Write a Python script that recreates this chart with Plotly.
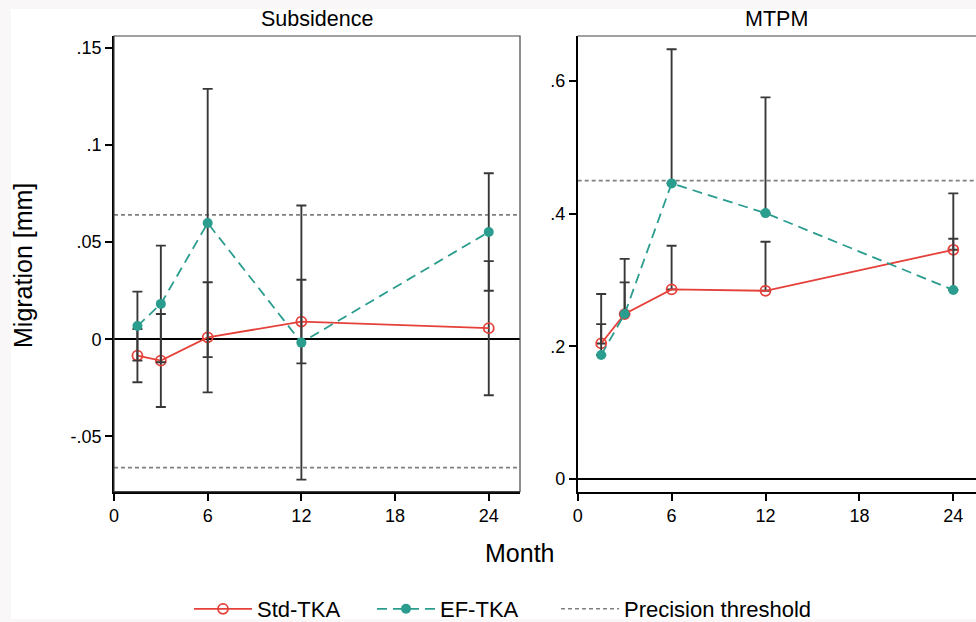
import plotly.graph_objects as go

# ---------------- data ----------------
months = [1.5, 3, 6, 12, 24]

# Subsidence (mm): mean, lower CI, upper CI
std_sub = [-0.0084, -0.0110, 0.0010, 0.0091, 0.0057]
std_sub_lo = [-0.0221, -0.0348, -0.0273, -0.0124, -0.0288]
std_sub_hi = [0.0053, 0.0130, 0.0293, 0.0306, 0.0402]
ef_sub = [0.0068, 0.0182, 0.0598, -0.0017, 0.0552]
ef_sub_lo = [-0.0110, -0.0118, -0.0092, -0.0722, 0.0250]
ef_sub_hi = [0.0245, 0.0482, 0.1288, 0.0688, 0.0854]

# MTPM (mm): mean, upper CI
std_mtpm = [0.2045, 0.2488, 0.2860, 0.2839, 0.3457]
std_mtpm_hi = [0.2337, 0.2965, 0.3517, 0.3578, 0.3623]
ef_mtpm = [0.1870, 0.2488, 0.4458, 0.4010, 0.2850]
ef_mtpm_hi = [0.2790, 0.3320, 0.6480, 0.5754, 0.4307]

sub_thr_upper = 0.064
sub_thr_lower = -0.066
mtpm_thr = 0.45

x_ticks = [0, 6, 12, 18, 24]
sub_ticks = [-0.05, 0, 0.05, 0.1, 0.15]
sub_ticktext = ["-.05", "0", ".05", ".1", ".15"]
mtpm_ticks = [0, 0.2, 0.4, 0.6]
mtpm_ticktext = ["0", ".2", ".4", ".6"]

# ---------------- style ----------------
RED = "#e5403a"
TEAL = "#2a9d8f"
ERR = "#383838"
THR = "#808080"
FONT = "Liberation Sans, Arial, sans-serif"
W, H = 976, 622

def px_x(p):
    return p / W

def px_y(p):
    return (H - p) / H

fig = go.Figure()

def err(vals, lo, hi):
    return dict(type="data", symmetric=False,
                array=[h - v for v, h in zip(vals, hi)],
                arrayminus=[v - l for v, l in zip(vals, lo)],
                color=ERR, thickness=1.9, width=5)

def err_up(vals, hi):
    return dict(type="data", symmetric=False,
                array=[h - v for v, h in zip(vals, hi)],
                arrayminus=[0 for _ in vals],
                color=ERR, thickness=1.9, width=5)

# thresholds
fig.add_trace(go.Scatter(
    x=[0, 26, None, 0, 26],
    y=[sub_thr_upper, sub_thr_upper, None, sub_thr_lower, sub_thr_lower],
    mode="lines", line=dict(color=THR, width=1.6, dash="4px,3px"),
    name="Precision threshold", legend="legend3", xaxis="x", yaxis="y",
    hoverinfo="skip"))
fig.add_trace(go.Scatter(
    x=[0, 26], y=[mtpm_thr, mtpm_thr],
    mode="lines", line=dict(color=THR, width=1.6, dash="4px,3px"),
    name="Precision threshold", showlegend=False, xaxis="x2", yaxis="y2",
    hoverinfo="skip"))

# Std-TKA
fig.add_trace(go.Scatter(
    x=months, y=std_sub, mode="lines+markers", name="Std-TKA", legend="legend",
    line=dict(color=RED, width=1.8),
    marker=dict(symbol="circle-open", size=10, color=RED, line=dict(width=1.8)),
    error_y=err(std_sub, std_sub_lo, std_sub_hi), xaxis="x", yaxis="y"))
fig.add_trace(go.Scatter(
    x=months, y=std_mtpm, mode="lines+markers", name="Std-TKA", showlegend=False,
    line=dict(color=RED, width=1.8),
    marker=dict(symbol="circle-open", size=10, color=RED, line=dict(width=1.8)),
    error_y=err_up(std_mtpm, std_mtpm_hi), xaxis="x2", yaxis="y2"))

# EF-TKA
fig.add_trace(go.Scatter(
    x=months, y=ef_sub, mode="lines+markers", name="EF-TKA", legend="legend2",
    line=dict(color=TEAL, width=1.8, dash="10px,6px"),
    marker=dict(symbol="circle", size=10, color=TEAL),
    error_y=err(ef_sub, ef_sub_lo, ef_sub_hi), xaxis="x", yaxis="y"))
fig.add_trace(go.Scatter(
    x=months, y=ef_mtpm, mode="lines+markers", name="EF-TKA", showlegend=False,
    line=dict(color=TEAL, width=1.8, dash="10px,6px"),
    marker=dict(symbol="circle", size=10, color=TEAL),
    error_y=err_up(ef_mtpm, ef_mtpm_hi), xaxis="x2", yaxis="y2"))

axis_common = dict(
    showline=True, linecolor="black", linewidth=1.7,
    ticks="outside", ticklen=7, tickwidth=1.5, tickcolor="black",
    tickfont=dict(family=FONT, size=18, color="black"),
    showgrid=False, mirror=False, fixedrange=True, automargin=False,
)

y_dom = [px_y(491.7), px_y(36)]

def leg(xpix):
    return dict(orientation="h", x=px_x(xpix), xanchor="left",
                y=px_y(609), yanchor="middle", itemwidth=58,
                font=dict(family=FONT, size=22, color="black"),
                bgcolor="rgba(0,0,0,0)", borderwidth=0)

fig.update_layout(
    template="none",
    width=W, height=H,
    margin=dict(l=0, r=0, t=0, b=0, autoexpand=False),
    paper_bgcolor="#f9f7f8",
    plot_bgcolor="white",
    font=dict(family=FONT, color="black"),
    xaxis=dict(domain=[px_x(114), px_x(520)], range=[0, 26],
               tickvals=x_ticks, zeroline=False, anchor="y", **axis_common),
    yaxis=dict(domain=y_dom, range=[-0.0784, 0.156], tickvals=sub_ticks,
               ticktext=sub_ticktext, zeroline=True, zerolinecolor="black",
               zerolinewidth=1.6, anchor="x", **axis_common),
    xaxis2=dict(domain=[px_x(577.7), 1.0], range=[0, 25.45],
                tickvals=x_ticks, zeroline=False, anchor="y2", **axis_common),
    yaxis2=dict(domain=y_dom, range=[-0.019, 0.668], tickvals=mtpm_ticks,
                ticktext=mtpm_ticktext, zeroline=True, zerolinecolor="black",
                zerolinewidth=1.6, anchor="x2", **axis_common),
    showlegend=True,
    legend=leg(189),
    legend2=leg(372),
    legend3=leg(556),
)

# white page area and panel frames
fig.add_shape(type="rect", xref="paper", yref="paper",
              x0=px_x(11), x1=1.0, y0=px_y(619), y1=px_y(9),
              fillcolor="white", line=dict(width=0), layer="below")
fig.add_shape(type="rect", xref="x domain", yref="y domain",
              x0=0, x1=1, y0=0, y1=1, line=dict(color="#444", width=1.2))
fig.add_shape(type="line", xref="x2 domain", yref="y2 domain",
              x0=0, x1=1, y0=1, y1=1, line=dict(color="#444", width=1.2))

# titles
def label(text, xp, yp, size, angle=0):
    fig.add_annotation(text=text, xref="paper", yref="paper",
                       x=px_x(xp), y=px_y(yp), xanchor="center",
                       yanchor="middle", showarrow=False, textangle=angle,
                       font=dict(family=FONT, size=size, color="black"))

label("Subsidence", 317, 19, 21.5)
label("MTPM", 776, 19, 21.5)
label("Migration [mm]", 23, 266, 25, -90)
label("Month", 519, 553, 25)

fig.write_html(
    "out.html",
    config={"displayModeBar": False, "staticPlot": False},
    post_script="document.body.style.margin='0';"
                "document.body.style.padding='0';"
                "document.body.style.overflow='hidden';"
                "document.body.style.background='#f9f7f8';",
)
